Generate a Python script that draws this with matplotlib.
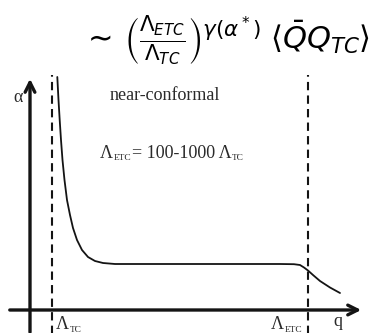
import matplotlib
matplotlib.use("Agg")
import matplotlib.pyplot as plt

curve_q = [57.3, 58.5, 59.7, 61.0, 62.5, 64.5, 67.0, 70.0, 73.0, 77.0, 82.0, 88.0, 95.0, 103.0,
           115.0, 160.0, 220.0, 280.0, 294.0, 300.0, 304.0, 308.0, 313.0, 320.0, 330.0, 340.0]
curve_a = [256.0, 233.0, 213.0, 193.0, 173.0, 153.0, 133.0, 118.0, 105.0, 93.0, 83.0, 76.0, 72.0, 70.0,
           69.0, 69.0, 69.0, 69.0, 68.8, 68.0, 65.5, 62.5, 58.0, 52.0, 45.5, 40.0]

lambda_tc_q = 52.0
lambda_etc_q = 308.0

W, H = 372, 333
fig = plt.figure(figsize=(W / 100, H / 100), dpi=100)
ax = fig.add_axes([0, 0, 1, 1])
ax.set_xlim(0, W)
ax.set_ylim(0, H)
ax.axis("off")

ink = "#141414"
txt = "#2a2a2a"
# axes arrows
ax.annotate("", xy=(30, H - 76), xytext=(30, -2),
            arrowprops=dict(arrowstyle="->,head_length=0.7,head_width=0.35", lw=2.4, color=ink))
ax.annotate("", xy=(364, H - 310), xytext=(7, H - 310),
            arrowprops=dict(arrowstyle="->,head_length=0.7,head_width=0.35", lw=2.4, color=ink))

# dashed lines
for xq in (lambda_tc_q, lambda_etc_q):
    ax.plot([xq, xq], [-2, H - 75], color=ink, lw=1.5, dashes=(4, 2.5))

# curve
ax.plot(curve_q, curve_a, color=ink, lw=1.3, solid_capstyle="round", solid_joinstyle="round")

serif = "Liberation Serif"
renderer = fig.canvas.get_renderer()


def run(x, y, parts, size=13):
    """parts: list of (string, is_subscript)"""
    for s, sub in parts:
        fs = size * 0.52 if sub else size
        yy = y - 2.5 if sub else y
        t = ax.text(x, yy, s, fontsize=fs, family=serif, color=txt, ha="left", va="baseline")
        bb = t.get_window_extent(renderer)
        x = ax.transData.inverted().transform((bb.x1, 0))[0] + 0.5


ax.text(18, H - 97, "α", fontsize=13, family=serif, color=txt, ha="center", va="center")
ax.text(165, H - 95, "near-conformal", fontsize=13, family=serif, color=txt,
        ha="center", va="center")
run(100, H - 158, [("Λ", False), ("ETC", True), ("= 100-1000 Λ", False), ("TC", True)])
run(56, H - 329, [("Λ", False), ("TC", True)])
run(271, H - 329, [("Λ", False), ("ETC", True)])
ax.text(338, H - 322, "q", fontsize=13, family=serif, color=txt, ha="center", va="center")

# title formula
ax.text(226, H - 41,
        r"$\sim\,\left(\frac{\Lambda_{ETC}}{\Lambda_{TC}}\right)^{\gamma(\alpha^*)}\;\langle \bar{Q}Q_{TC}\rangle$",
        fontsize=22, color="black", ha="center", va="center", math_fontfamily="dejavusans")

fig.savefig("out.png", dpi=100)
